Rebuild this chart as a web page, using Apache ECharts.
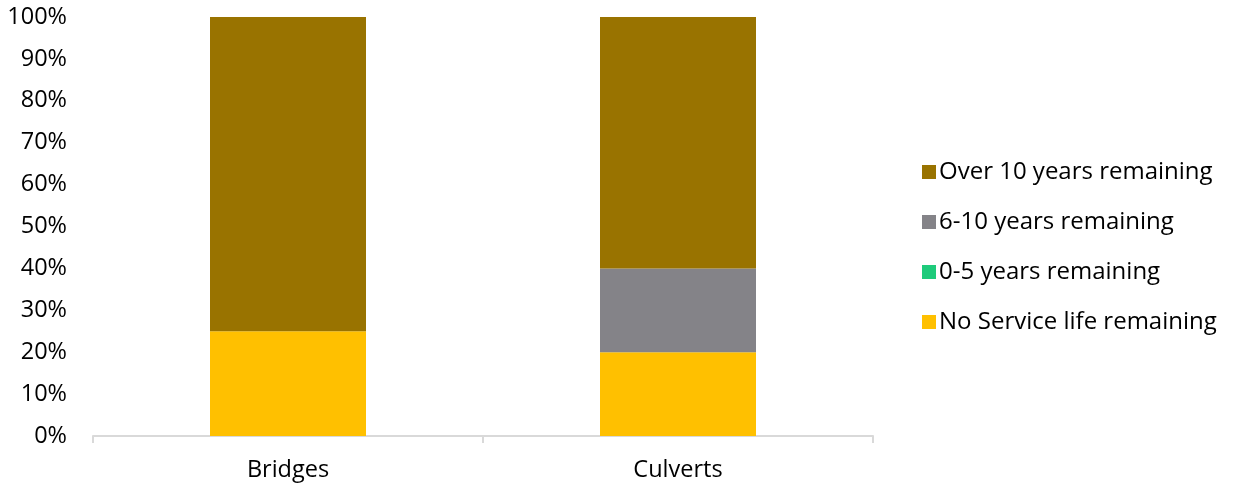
<!DOCTYPE html>
<html>
<head>
<meta charset="utf-8">
<script src="https://cdn.jsdelivr.net/npm/echarts@6/dist/echarts.min.js"></script>
<style>
  html, body { margin: 0; padding: 0; background: #ffffff; }
  #chart { width: 1233px; height: 489px; }
</style>
</head>
<body>
<div id="chart"></div>
<script>
// Share of structures by remaining service life
const categories = ['Bridges', 'Culverts'];
const noServiceLife = [25, 20];
const zeroToFive = [0, 0];
const sixToTen = [0, 20];
const overTen = [75, 60];
const seriesNames = ['No Service life remaining', '0-5 years remaining', '6-10 years remaining', 'Over 10 years remaining'];
const legendOrder = ['Over 10 years remaining', '6-10 years remaining', '0-5 years remaining', 'No Service life remaining'];

const colors = ['#FFC000', '#1ECB7B', '#848388', '#997300'];
const values = [noServiceLife, zeroToFive, sixToTen, overTen];
const fontFamily = '"Open Sans", Lato, sans-serif';
const fontSize = 23.5;

const chart = echarts.init(document.getElementById('chart'), null, { renderer: 'canvas' });
chart.setOption({
  animation: false,
  textStyle: { fontFamily: fontFamily },
  grid: { left: 93, right: 360, top: 17, bottom: 53, containLabel: false },
  legend: {
    data: legendOrder,
    orient: 'vertical',
    left: 917,
    top: 155,
    itemWidth: 14,
    itemHeight: 14,
    itemGap: 26,
    icon: 'rect',
    textStyle: { fontSize: 24, lineHeight: 24, color: '#000000', fontFamily: fontFamily, padding: [0, 0, 0, -2] }
  },
  xAxis: {
    type: 'category',
    data: categories,
    axisLine: { lineStyle: { color: '#d9d9d9', width: 2 } },
    axisTick: { show: true, length: 7, lineStyle: { color: '#d9d9d9', width: 2 } },
    axisLabel: { fontSize: fontSize, color: '#000000', margin: 22 }
  },
  yAxis: {
    type: 'value',
    min: 0,
    max: 100,
    interval: 10,
    axisLine: { show: false },
    axisTick: { show: false },
    splitLine: { show: false },
    axisLabel: { fontSize: fontSize, color: '#000000', margin: 26, formatter: '{value}%' }
  },
  series: seriesNames.map((name, i) => ({
    name: name,
    type: 'bar',
    stack: 'total',
    barWidth: '40%',
    data: values[i],
    itemStyle: { color: colors[i] }
  }))
});
</script>
</body>
</html>
